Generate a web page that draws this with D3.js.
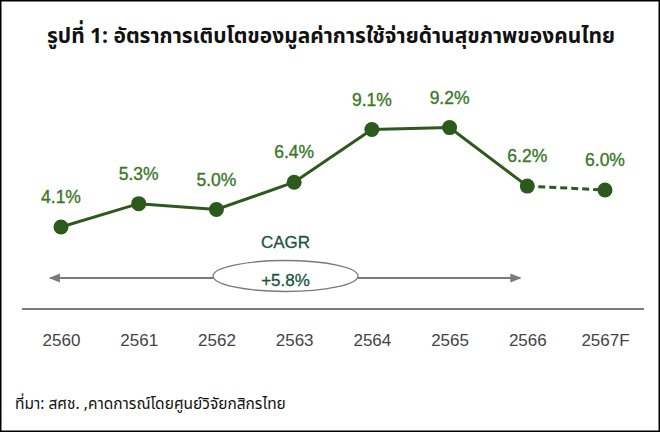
<!DOCTYPE html>
<html>
<head>
<meta charset="utf-8">
<script src="https://cdn.jsdelivr.net/npm/d3@7"></script>
<style>
  body { margin: 0; background: #fff; }
  svg { display: block; font-family: Arial, "Liberation Sans", sans-serif; }
</style>
</head>
<body>
<svg width="660" height="432"></svg>
<script>
var years = ["2560", "2561", "2562", "2563", "2564", "2565", "2566", "2567F"];
var growth = [4.1, 5.3, 5.0, 6.4, 9.1, 9.2, 6.2, 6.0];
var actualCount = 7; // last point is a forecast (dashed)
var cagrLabel = "CAGR";
var cagrValue = "+5.8%";
var title = "รูปที่ 1: อัตราการเติบโตของมูลค่าการใช้จ่ายด้านสุขภาพของคนไทย";
var source = "ที่มา: สศช. ,คาดการณ์โดยศูนย์วิจัยกสิกรไทย";

var svg = d3.select("svg"),
    width = +svg.attr("width"),
    height = +svg.attr("height");

var green = "#2b5a1c",
    labelGreen = "#3a7829",
    cagrGreen = "#1b5442",
    grey = "#7a7a7a";

// frame
svg.append("rect")
  .attr("x", 0.75).attr("y", 0.75)
  .attr("width", width - 1.5).attr("height", height - 1.5)
  .attr("fill", "#fff")
  .attr("stroke", "#000")
  .attr("stroke-width", 1.5);

// title, stretched to the width it has in the picture
var t = svg.append("text")
  .attr("x", 331).attr("y", 43)
  .attr("text-anchor", "middle")
  .attr("font-family", "'Noto Sans Thai', 'Noto Sans', Tahoma, sans-serif")
  .attr("font-weight", "bold")
  .attr("font-size", 22)
  .attr("fill", "#111")
  .text(title);
var tw = t.node().getComputedTextLength();
if (Math.abs(tw - 568) > 4) t.attr("textLength", 568).attr("lengthAdjust", "spacingAndGlyphs");

var x = d3.scalePoint()
    .domain(years)
    .range([61, 605]);

var y = d3.scaleLinear()
    .domain([0, 10])
    .range([307, 112]);

// baseline
svg.append("line")
  .attr("x1", 22).attr("x2", 644)
  .attr("y1", 309).attr("y2", 309)
  .attr("stroke", grey)
  .attr("stroke-width", 2.2);

// year labels
var xAxis = svg.append("g")
  .attr("transform", "translate(0,309)")
  .call(d3.axisBottom(x).tickSize(0).tickPadding(25));
xAxis.select(".domain").remove();
xAxis.selectAll("text")
  .attr("font-family", "Arial, 'Liberation Sans', sans-serif")
  .attr("font-size", 17)
  .attr("fill", "#444");

// CAGR arrow
var defs = svg.append("defs");
defs.append("marker")
  .attr("id", "head")
  .attr("viewBox", "0 0 10 10")
  .attr("refX", 9).attr("refY", 5)
  .attr("markerWidth", 5).attr("markerHeight", 5)
  .attr("markerUnits", "strokeWidth")
  .attr("orient", "auto-start-reverse")
  .append("path")
  .attr("d", "M0,1 L10,5 L0,9 Z")
  .attr("fill", grey);

var arrowY = 278;
svg.append("line")
  .attr("x1", x(years[0]) - 11).attr("x2", x(years[6]) - 7)
  .attr("y1", arrowY).attr("y2", arrowY)
  .attr("stroke", grey)
  .attr("stroke-width", 2.2)
  .attr("marker-start", "url(#head)")
  .attr("marker-end", "url(#head)");

var cx = 285.5;
svg.append("ellipse")
  .attr("cx", cx).attr("cy", 276)
  .attr("rx", 72.5).attr("ry", 15.5)
  .attr("fill", "#fff")
  .attr("stroke", grey)
  .attr("stroke-width", 1.3);

svg.append("text")
  .attr("x", cx).attr("y", 286)
  .attr("text-anchor", "middle")
  .attr("font-size", 17)
  .attr("stroke", cagrGreen).attr("stroke-width", 0.3)
  .attr("fill", cagrGreen)
  .text(cagrValue);

svg.append("text")
  .attr("x", cx).attr("y", 248)
  .attr("text-anchor", "middle")
  .attr("font-size", 17)
  .attr("stroke", cagrGreen).attr("stroke-width", 0.3)
  .attr("fill", cagrGreen)
  .text(cagrLabel);

// series
var data = years.map(function(d, i) { return { year: d, value: growth[i], i: i }; });

var line = d3.line()
  .x(function(d) { return x(d.year); })
  .y(function(d) { return y(d.value); });

svg.append("path")
  .datum(data.slice(0, actualCount))
  .attr("d", line)
  .attr("fill", "none")
  .attr("stroke", green)
  .attr("stroke-width", 3);

svg.append("path")
  .datum(data.slice(actualCount - 1))
  .attr("d", line)
  .attr("fill", "none")
  .attr("stroke", green)
  .attr("stroke-width", 3)
  .attr("stroke-dasharray", "7,4");

svg.selectAll(".dot")
  .data(data)
  .enter().append("circle")
  .attr("class", "dot")
  .attr("cx", function(d) { return x(d.year); })
  .attr("cy", function(d) { return y(d.value); })
  .attr("r", 7.5)
  .attr("fill", green);

svg.selectAll(".val")
  .data(data)
  .enter().append("text")
  .attr("class", "val")
  .attr("x", function(d) { return x(d.year); })
  .attr("y", function(d) { return y(d.value) - 24; })
  .attr("text-anchor", "middle")
  .attr("font-size", 17.5)
  .attr("stroke", labelGreen).attr("stroke-width", 0.35)
  .attr("fill", labelGreen)
  .text(function(d) { return d3.format(".1f")(d.value) + "%"; });

// source note
svg.append("text")
  .attr("x", 15).attr("y", 409)
  .attr("font-family", "Tahoma, 'Noto Sans Thai', 'DejaVu Sans', sans-serif")
  .attr("font-size", 15.5)
  .attr("fill", "#111")
  .text(source);
</script>
</body>
</html>
